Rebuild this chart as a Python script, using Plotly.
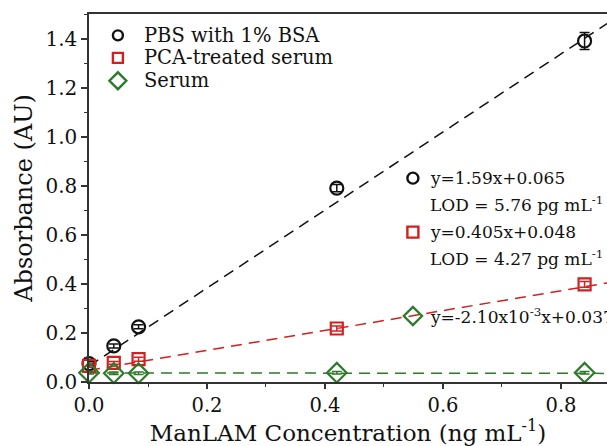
import plotly.graph_objects as go

# ---- data ----
conc = [0.0, 0.042, 0.084, 0.42, 0.84]
pbs = [0.075, 0.147, 0.225, 0.790, 1.390]
pbs_err = [0.008, 0.008, 0.008, 0.015, 0.035]
pca = [0.066, 0.078, 0.093, 0.218, 0.398]
pca_err = [0.006, 0.006, 0.008, 0.010, 0.012]
serum = [0.038, 0.036, 0.036, 0.038, 0.038]
serum_err = [0.005, 0.005, 0.005, 0.005, 0.005]

names = ["PBS with 1% BSA", "PCA-treated serum", "Serum"]
slopes = [1.59, 0.405, -2.10e-3]
intercepts = [0.065, 0.048, 0.037]
eq_lines = [
    ["y=1.59x+0.065", "LOD = 5.76 pg mL<sup>-1</sup>"],
    ["y=0.405x+0.048", "LOD = 4.27 pg mL<sup>-1</sup>"],
    ["y=-2.10x10<sup>-3</sup>x+0.037"],
]

# ---- style ----
FONT = "DejaVu Serif"
TXT = "#111111"
colors = ["#111111", "#d0201f", "#2e7a2b"]
symbols = ["circle-open", "square-open", "diamond-open"]
msizes = [13, 12, 15]
key_sizes = [10, 10, 13]
X_RANGE = [0.0, 0.878]
Y_RANGE = [0.0, 1.5]

fig = go.Figure()
series = [(pbs, pbs_err), (pca, pca_err), (serum, serum_err)]

# fit lines
for i in range(3):
    xs = [X_RANGE[0], X_RANGE[1]]
    ys = [slopes[i] * x + intercepts[i] for x in xs]
    fig.add_trace(go.Scatter(x=xs, y=ys, mode="lines", showlegend=False,
                             line=dict(color=colors[i], width=1.5, dash="11px,7px"),
                             hoverinfo="skip"))

# data points
for i, (ys, es) in enumerate(series):
    fig.add_trace(go.Scatter(
        x=conc, y=ys, mode="markers", name=names[i], showlegend=False, cliponaxis=False,
        error_y=dict(type="data", array=es, color=colors[i], thickness=1.5, width=5),
        marker=dict(symbol=symbols[i], size=msizes[i], color=colors[i],
                    line=dict(width=2.2, color=colors[i]))))

# legend block (keys + labels, top-left of plot)
leg_x = 0.049
leg_y = [1.413, 1.321, 1.228]
for i in range(3):
    fig.add_trace(go.Scatter(
        x=[leg_x], y=[leg_y[i]], mode="markers", showlegend=False, cliponaxis=False,
        hoverinfo="skip",
        marker=dict(symbol=symbols[i], size=key_sizes[i], color=colors[i],
                    line=dict(width=2.4, color=colors[i]))))
    fig.add_annotation(x=leg_x + 0.041, y=leg_y[i], xref="x", yref="y",
                       text=names[i], showarrow=False, xanchor="left", yanchor="middle",
                       font=dict(family=FONT, size=19.5, color=TXT))

# equation keys
key_x = 0.549
key_y = [0.831, 0.611, 0.269]
line_step = 0.107
for i in range(3):
    fig.add_trace(go.Scatter(
        x=[key_x], y=[key_y[i]], mode="markers", showlegend=False, cliponaxis=False,
        hoverinfo="skip",
        marker=dict(symbol=symbols[i], size=key_sizes[i] + 1, color=colors[i],
                    line=dict(width=2.4, color=colors[i]))))
    for j, t in enumerate(eq_lines[i]):
        fig.add_annotation(x=key_x + 0.025, y=key_y[i] - j * line_step, xref="x", yref="y",
                           text=t, showarrow=False, xanchor="left", yanchor="middle",
                           font=dict(family=FONT, size=17, color=TXT))

axis_common = dict(
    showgrid=False, zeroline=False, showline=True, linecolor="#333333", linewidth=1.5,
    ticks="outside", tickwidth=1.5, tickcolor="#333333",
    minor=dict(ticks="outside", ticklen=3, tickwidth=1.2, tickcolor="#333333", dtick=0.1),
)

fig.update_xaxes(range=X_RANGE, dtick=0.2, tickformat=".1f", mirror=True, ticklen=5,
                 tickfont=dict(family=FONT, size=19.5, color=TXT),
                 title=dict(text="ManLAM Concentration (ng mL<sup>-1</sup>)",
                            font=dict(family=FONT, size=23, color=TXT), standoff=10),
                 **axis_common)
fig.update_yaxes(range=Y_RANGE, dtick=0.2, tickformat=".1f", ticklen=6,
                 tickfont=dict(family=FONT, size=20, color=TXT),
                 title=dict(text="Absorbance (AU)",
                            font=dict(family=FONT, size=24, color=TXT), standoff=6),
                 **axis_common)

fig.update_layout(
    width=607, height=446,
    margin=dict(l=89, r=0, t=14, b=64),
    paper_bgcolor="white", plot_bgcolor="white",
    font=dict(family=FONT),
    showlegend=False,
)

fig.write_html("out.html")
